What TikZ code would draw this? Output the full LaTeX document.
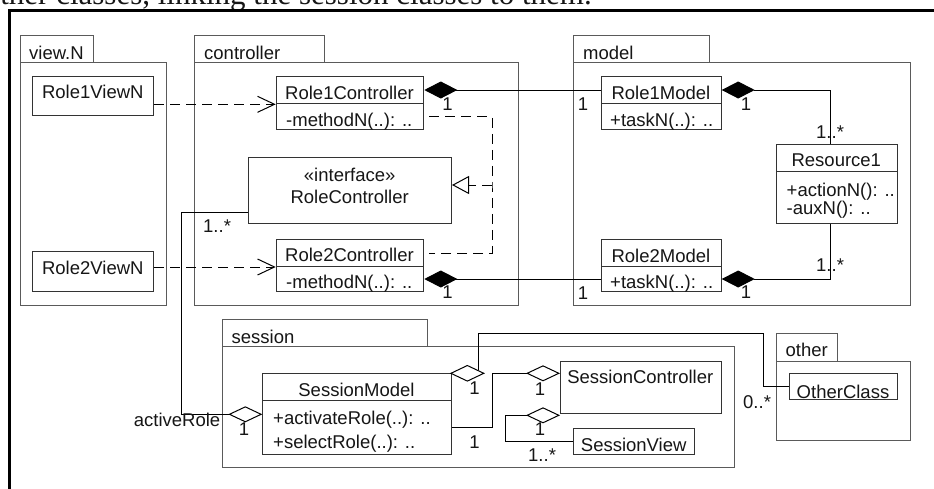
\documentclass[tikz,border=0pt]{standalone}
\usepackage{fontspec}
\setmainfont{Liberation Sans}
\newfontfamily\capserif{Liberation Serif}
\usetikzlibrary{arrows.meta,shapes.geometric}
\definecolor{boxc}{HTML}{333333}
\definecolor{pkgc}{HTML}{5A5A5A}
\definecolor{txtc}{HTML}{161616}
\newcommand{\umlfs}{\fontsize{18.5}{20}\selectfont}
\tikzset{
 box/.style={draw=boxc, line width=1pt, fill=white, inner sep=0pt, anchor=north west, rectangle},
 pkgbox/.style={draw=pkgc, line width=1pt, inner sep=0pt, anchor=north west, rectangle},
 txt/.style={inner sep=0pt, text=txtc, font=\umlfs},
 conn/.style={draw=black, line width=1pt},
 dep/.style={conn, dash pattern=on 10pt off 6pt, -{Straight Barb[length=17pt,width=16pt]}},
 realize/.style={conn, dash pattern=on 10pt off 6pt},
 realtip/.style={conn, dash pattern=on 10pt off 6pt, -{Triangle[open,length=17pt,width=18pt]}},
 comp/.style={conn, {Diamond[length=33pt,width=17pt]}-},
 agg/.style={conn, {Diamond[open,length=34pt,width=16pt]}-},
 aggnode/.style={diamond, draw=black, line width=1pt, inner sep=0pt, minimum width=33.3pt, minimum height=16pt, fill=white},
}
\begin{document}
\begin{tikzpicture}[x=1pt,y=-1pt]
\useasboundingbox (0,0) rectangle (934,488);
\clip (0,0) rectangle (934,488);
\fill[white] (0,0) rectangle (934,488);

% clipped caption line of the page
\node[anchor=base east, inner sep=0pt, text=txtc, font=\capserif\fontsize{31}{31}\selectfont] (caption) at (592,4) {other classes, linking the session classes to them.};

% outer frame
\coordinate (fbl) at (9.5,500);
\coordinate (ftl) at (9.5,10.5);
\coordinate (ftr) at (950,10.5);
\draw[line width=2.5pt] (fbl) -- (ftl) -- (ftr);

% packages
\node[pkgbox, minimum width=72.7pt, minimum height=27pt] (vtab) at (20,35) {};
\node[pkgbox, minimum width=146pt, minimum height=243pt] (vpkg) at (20,62) {};
\node[txt, anchor=base west] (vlbl) at (29,59.3) {view.N};

\node[pkgbox, minimum width=130pt, minimum height=27pt] (ctab) at (194.3,35) {};
\node[pkgbox, minimum width=324pt, minimum height=243pt] (cpkg) at (194.3,62) {};
\node[txt, anchor=base west] (clbl) at (204,59.3) {controller};

\node[pkgbox, minimum width=135.4pt, minimum height=27pt] (mtab) at (573.3,35) {};
\node[pkgbox, minimum width=336.7pt, minimum height=243pt] (mpkg) at (573.3,62) {};
\node[txt, anchor=base west] (mlbl) at (583,59.3) {model};

\node[pkgbox, minimum width=205.6pt, minimum height=26.7pt] (stab) at (221.7,319.3) {};
\node[pkgbox, minimum width=512.6pt, minimum height=120.7pt] (spkg) at (221.7,346) {};
\node[txt, anchor=base west] (slbl) at (231.5,343.3) {session};

\node[pkgbox, minimum width=61.3pt, minimum height=27.4pt] (otab) at (776,333.3) {};
\node[pkgbox, minimum width=134pt, minimum height=79.3pt] (opkg) at (776,360.7) {};
\node[txt, anchor=base west] (olbl) at (785.5,356) {other};

% classes
\node[box, minimum width=121pt, minimum height=39.3pt] (r1v) at (32.3,75.7) {};
\node[txt, anchor=base] (r1vt) at (92.8,98.7) {Role1ViewN};
\node[box, minimum width=121pt, minimum height=40pt] (r2v) at (32.3,251) {};
\node[txt, anchor=base] (r2vt) at (92.8,274.3) {Role2ViewN};

\node[box, minimum width=147.6pt, minimum height=27.6pt] (r1c) at (275.7,75.7) {};
\node[box, minimum width=147.6pt, minimum height=25.7pt] (r1cm) at (275.7,103.3) {};
\node[txt, anchor=base] (r1ct) at (349.5,99) {Role1Controller};
\node[txt, anchor=base west] (r1cmt) at (286,126.5) {-methodN(..): ..};

\node[box, minimum width=202.7pt, minimum height=66pt] (iface) at (248.3,157.3) {};
\node[txt, anchor=base] (ifst) at (349.7,181) {«interface»};
\node[txt, anchor=base] (ifnt) at (349.7,203.3) {RoleController};

\node[box, minimum width=147.6pt, minimum height=27pt] (r2c) at (275.7,239) {};
\node[box, minimum width=147.6pt, minimum height=25pt] (r2cm) at (275.7,266) {};
\node[txt, anchor=base] (r2ct) at (349.5,261.7) {Role2Controller};
\node[txt, anchor=base west] (r2cmt) at (286,288) {-methodN(..): ..};

\node[box, minimum width=119.7pt, minimum height=27.6pt] (r1m) at (601,75.7) {};
\node[box, minimum width=119.7pt, minimum height=25.7pt] (r1mm) at (601,103.3) {};
\node[txt, anchor=base] (r1mt) at (660.9,99) {Role1Model};
\node[txt, anchor=base west] (r1mmt) at (610,126) {+taskN(..): ..};

\node[box, minimum width=119.7pt, minimum height=27pt] (r2m) at (601,239) {};
\node[box, minimum width=119.7pt, minimum height=25pt] (r2mm) at (601,266) {};
\node[txt, anchor=base] (r2mt) at (660.9,262) {Role2Model};
\node[txt, anchor=base west] (r2mmt) at (610,288) {+taskN(..): ..};

\node[box, minimum width=120.7pt, minimum height=27pt] (res) at (776,144) {};
\node[box, minimum width=120.7pt, minimum height=51.7pt] (resm) at (776,171) {};
\node[txt, anchor=base] (rest) at (836.3,166.7) {Resource1};
\node[txt, anchor=base west] (resa) at (786.5,196) {+actionN(): ..};
\node[txt, anchor=base west] (resb) at (786.5,214.5) {-auxN(): ..};

\node[box, minimum width=188.4pt, minimum height=26.7pt] (sm) at (262.3,373.3) {};
\node[box, minimum width=188.4pt, minimum height=54pt] (smm) at (262.3,400) {};
\node[txt, anchor=base] (smt) at (356.5,396.7) {SessionModel};
\node[txt, anchor=base west] (sma) at (273,424) {+activateRole(..): ..};
\node[txt, anchor=base west] (smb) at (273,448) {+selectRole(..): ..};

\node[box, minimum width=160.7pt, minimum height=52pt] (sc) at (560,360.7) {};
\node[txt, anchor=base] (sct) at (640.3,383.3) {SessionController};
\node[box, minimum width=120.7pt, minimum height=26.3pt] (sv) at (573.3,427.7) {};
\node[txt, anchor=base] (svt) at (633.7,451.7) {SessionView};

\node[box, minimum width=107.4pt, minimum height=26pt] (oc) at (789.3,373.3) {};
\node[txt, anchor=base] (oct) at (843,398.3) {OtherClass};

% dependencies view -> controller
\draw[dep] (r1v.east |- r1c.south) -- (r1c.south west);
\draw[dep] (r2v.east |- r2c.south) -- (r2c.south west);

% realization
\coordinate (rj) at (492,185);
\draw[realize] ([xshift=5pt]r1cm.east) -| (rj) |- ([xshift=5pt]r2c.east);
\draw[realtip] (rj) -- (iface.east |- rj);

% compositions
\draw[comp] (r1c.east) -- (r1m.west);
\draw[comp] (r2cm.east) -- (r2mm.west);
\draw[comp] (r1m.east) -| ([xshift=-6.3pt]res.north);
\draw[comp] (r2mm.east) -| ([xshift=-6.3pt]resm.south);

% aggregations
\draw[agg] ([yshift=-14.3pt]smm.north west) -- ++(-80.6,0) |- ([yshift=11.6pt]iface.south west);
\draw[agg] ([yshift=-12.6pt]sc.north west) -| ([xshift=41pt]smm.east) -- (smm.east);
\draw[agg] ([yshift=-1.6pt]sc.south west) -- ++(-54.3,0) |- (sv.west);
\node[aggnode] (sagg) at (467.35,373.3) {};
\coordinate (obend) at (763.3,333.3);
\draw[conn] (sagg.14) |- (obend) |- (oc.west);

% multiplicities
\node[txt, anchor=base] (m1) at (447.5,110) {1};
\node[txt, anchor=base] (m2) at (583,110) {1};
\node[txt, anchor=base] (m3) at (746,110) {1};
\node[txt, anchor=base west] (m4) at (816,138.5) {1..*};
\node[txt, anchor=base west] (m5) at (816,271) {1..*};
\node[txt, anchor=base] (m6) at (746,298) {1};
\node[txt, anchor=base] (m7) at (447.5,298.3) {1};
\node[txt, anchor=base] (m8) at (583,299.3) {1};
\node[txt, anchor=base west] (m9) at (203,232) {1..*};
\node[txt, anchor=base east] (m10) at (220.5,426.7) {activeRole};
\node[txt, anchor=base] (m11) at (244,435) {1};
\node[txt, anchor=base] (m12) at (474.5,394) {1};
\node[txt, anchor=base] (m13) at (474.5,448.3) {1};
\node[txt, anchor=base] (m14) at (540,395) {1};
\node[txt, anchor=base] (m15) at (540,435) {1};
\node[txt, anchor=base west] (m16) at (528,461.7) {1..*};
\node[txt, anchor=base west] (m17) at (743,408.3) {0..*};
\end{tikzpicture}
\end{document}
